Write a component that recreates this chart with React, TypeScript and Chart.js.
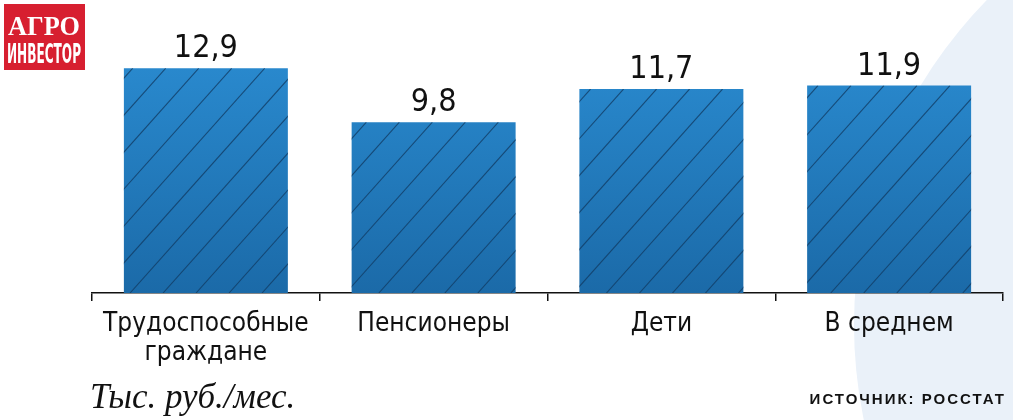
import React, { useEffect, useRef } from "react";
import { Chart, registerables } from "chart.js";

Chart.register(...registerables);

const categories: (string | string[])[] = [["Трудоспособные", "граждане"], "Пенсионеры", "Дети", "В среднем"];
const values: number[] = [12.9, 9.8, 11.7, 11.9];
const unitLabel = "Тыс. руб./мес.";
const sourceLabel = "ИСТОЧНИК: РОССТАТ";
const logoTop = "АГРО";
const logoBottom = "ИНВЕСТОР";

const NARROW = "'Liberation Sans Narrow', 'DejaVu Sans Condensed', 'Roboto', sans-serif";

export default function App() {
  const ref = useRef<HTMLCanvasElement | null>(null);

  useEffect(() => {
    if (!ref.current) return;

    const bgPlugin = {
      id: "bgCircle",
      beforeDraw(chart: any) {
        const c = chart.ctx;
        c.save();
        c.fillStyle = "#ffffff";
        c.fillRect(0, 0, chart.width, chart.height);
        c.beginPath();
        c.arc(1318, 325, 464, 0, Math.PI * 2);
        c.fillStyle = "#eaf1f9";
        c.fill();
        c.restore();
      },
    };

    const decoPlugin = {
      id: "deco",
      afterDatasetsDraw(chart: any) {
        const c = chart.ctx;
        const meta = chart.getDatasetMeta(0);
        meta.data.forEach((bar: any, i: number) => {
          const p = bar.getProps(["x", "y", "base", "width"], true);
          const left = p.x - p.width / 2;
          const top = p.y;
          const bottom = p.base;
          const h = bottom - top;
          const slope = 1.12;
          c.save();
          c.beginPath();
          c.rect(left, top, p.width, h);
          c.clip();
          c.strokeStyle = "rgba(18,60,100,0.8)";
          c.lineWidth = 1.1;
          for (let k = -h; k < p.width + 40; k += 33) {
            c.beginPath();
            c.moveTo(left + k, bottom);
            c.lineTo(left + k + h / slope, top);
            c.stroke();
          }
          c.restore();

          c.save();
          c.fillStyle = "#111";
          c.font = `32px ${NARROW}`;
          c.textAlign = "center";
          c.textBaseline = "alphabetic";
          c.fillText(String(values[i]).replace(".", ","), p.x, top - 11);
          c.restore();
        });
      },
      afterDraw(chart: any) {
        const c = chart.ctx;
        c.save();
        // unit label
        c.fillStyle = "#111";
        c.font = "italic 35px 'Liberation Serif', 'DejaVu Serif', serif";
        c.textAlign = "left";
        c.textBaseline = "alphabetic";
        c.fillText(unitLabel, 90, 408);

        // source
        c.font = `bold 15px 'Liberation Sans', 'DejaVu Sans', sans-serif`;
        (c as any).letterSpacing = "2px";
        c.textAlign = "right";
        c.fillText(sourceLabel, 1006, 404);
        (c as any).letterSpacing = "0px";

        // logo
        c.fillStyle = "#d71f30";
        c.fillRect(4, 4, 81, 66);
        c.fillStyle = "#ffffff";
        c.textAlign = "center";
        c.font = "bold 28px 'Liberation Serif', 'DejaVu Serif', serif";
        c.fillText(logoTop, 44, 35, 72);
        c.font = `bold 27px ${NARROW}`;
        c.fillText(logoBottom, 44, 63, 74);
        c.restore();
      },
    };

    const chart = new Chart(ref.current, {
      type: "bar",
      data: {
        labels: categories as any,
        datasets: [
          {
            data: values,
            backgroundColor: (ctx: any) => {
              const area = ctx.chart.chartArea;
              if (!area) return "#2385c8";
              const g = ctx.chart.ctx.createLinearGradient(0, area.top, 0, area.bottom);
              g.addColorStop(0, "#2a8bd0");
              g.addColorStop(1, "#1b6aa8");
              return g;
            },
            borderWidth: 0,
            barPercentage: 0.72,
            categoryPercentage: 1,
          },
        ],
      },
      options: {
        animation: false,
        responsive: false,
        maintainAspectRatio: false,
        layout: { padding: { left: 92, right: 10, top: 49, bottom: 0 } },
        plugins: { legend: { display: false }, tooltip: { enabled: false } },
        scales: {
          x: {
            offset: true,
            grid: {
              offset: true,
              drawOnChartArea: false,
              drawTicks: true,
              tickLength: 8,
              color: "#111",
              lineWidth: 1.5,
            },
            border: { display: true, color: "#111", width: 1.5 },
            ticks: {
              color: "#111",
              font: { family: NARROW, size: 26, lineHeight: 1.1 },
              padding: 9,
              maxRotation: 0,
              minRotation: 0,
              autoSkip: false,
            },
            afterFit: (s: any) => {
              s.height = 127;
            },
          },
          y: { display: false, min: 0, max: 14 },
        },
      },
      plugins: [bgPlugin, decoPlugin],
    });
    return () => chart.destroy();
  }, []);

  return (
    <div style={{ position: "fixed", left: 0, top: 0, width: 1013, height: 420 }}>
      <canvas ref={ref} width={1013} height={420} style={{ width: 1013, height: 420, display: "block" }} />
    </div>
  );
}
